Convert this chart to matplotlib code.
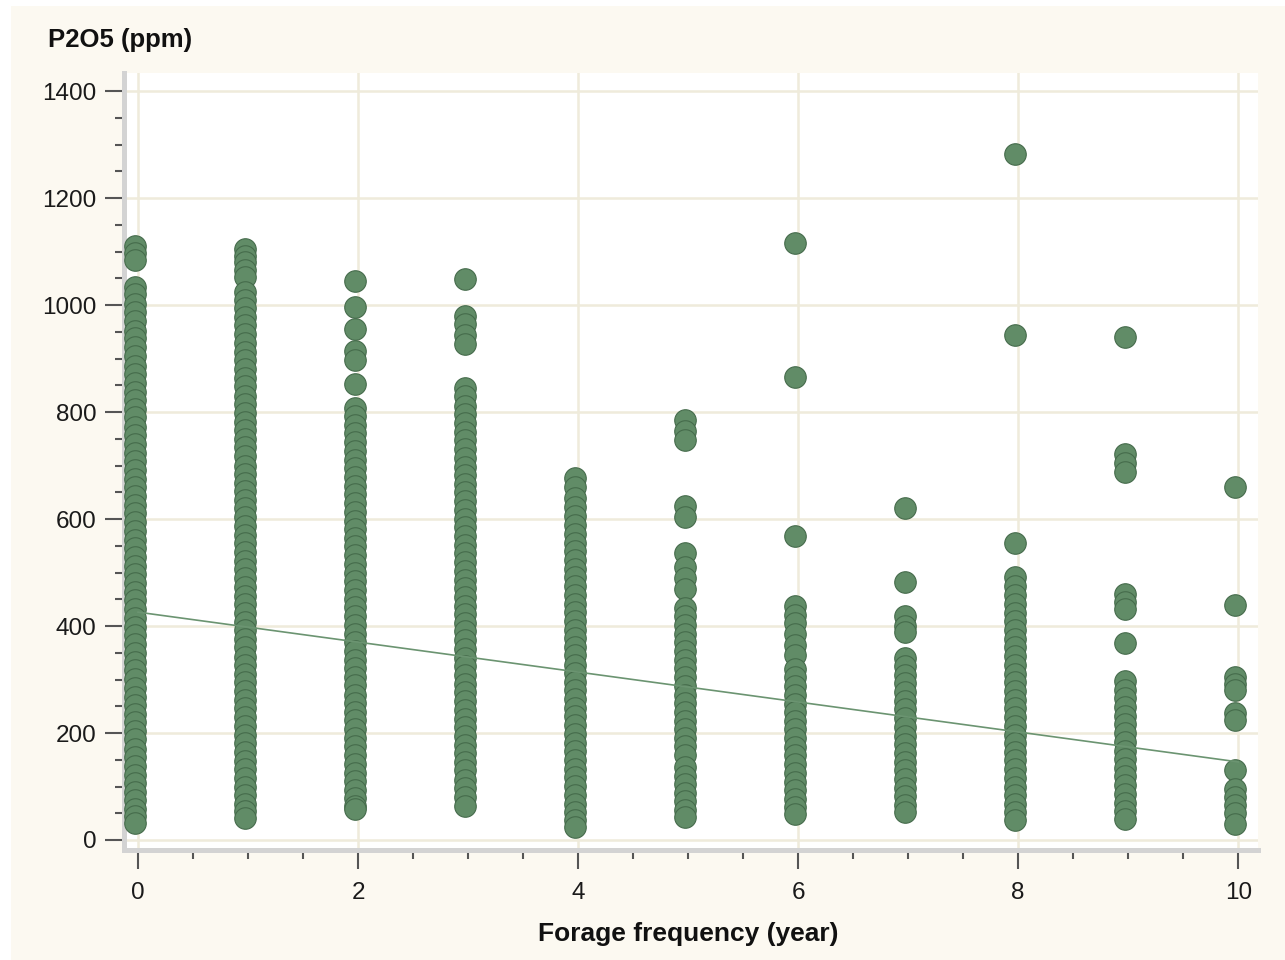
import numpy as np
import matplotlib.pyplot as plt
from matplotlib.patches import Rectangle
from matplotlib.ticker import MultipleLocator

plt.switch_backend('agg')
plt.rcParams['font.family'] = ['Liberation Sans', 'DejaVu Sans']

# P2O5 readings (ppm) grouped by forage frequency (years)
freq_years = [0, 1, 2, 3, 4, 5, 6, 7, 8, 9, 10]

p2o5_f0 = [1110, 1098, 1085, 1034, 1020, 1003, 988, 970, 952, 938, 921, 905, 887, 872,
           855, 838, 822, 806, 790, 772, 757, 740, 724, 708, 691, 675, 660, 643, 626,
           611, 594, 578, 561, 545, 530, 512, 497, 480, 464, 448, 431, 415, 398, 383,
           366, 350, 333, 318, 301, 285, 268, 252, 236, 220, 203, 188, 171, 155, 139,
           122, 106, 90, 74, 58, 44, 32]
p2o5_f1 = [1105, 1092, 1080, 1066, 1052, 1025, 1010, 995, 978, 962, 946, 930, 913, 897,
           880, 864, 848, 831, 815, 799, 782, 766, 750, 734, 717, 700, 685, 668, 652,
           636, 620, 603, 587, 571, 555, 538, 522, 506, 490, 473, 457, 441, 425, 408,
           392, 376, 360, 343, 327, 311, 295, 278, 262, 246, 230, 213, 197, 181, 165,
           148, 132, 116, 100, 84, 68, 54, 42]
p2o5_f2 = [1045, 996, 955, 914, 897, 852, 807, 792, 776, 760, 744, 727, 711, 695, 679,
           662, 646, 630, 614, 597, 581, 565, 549, 532, 516, 500, 484, 467, 451, 435,
           419, 402, 386, 370, 354, 337, 321, 305, 289, 272, 256, 240, 224, 207, 191,
           175, 159, 142, 126, 110, 94, 78, 64, 58]
p2o5_f3 = [1048, 980, 965, 945, 927, 845, 830, 812, 796, 780, 763, 747, 731, 715, 698,
           682, 666, 650, 633, 617, 601, 585, 568, 552, 536, 520, 503, 487, 471, 455,
           438, 422, 406, 390, 373, 357, 341, 325, 308, 292, 276, 260, 243, 227, 211,
           195, 178, 162, 146, 130, 113, 97, 81, 63]
p2o5_f4 = [677, 660, 640, 622, 605, 588, 572, 556, 540, 523, 507, 491, 475, 458, 442,
           426, 410, 393, 377, 361, 345, 328, 312, 296, 280, 263, 247, 231, 215, 198,
           182, 166, 150, 133, 117, 101, 85, 68, 52, 38, 25]
p2o5_f5 = [785, 765, 748, 624, 604, 536, 510, 490, 470, 434, 418, 402, 386, 370, 353,
           337, 321, 305, 288, 272, 256, 240, 223, 207, 191, 175, 158, 137, 120, 104,
           88, 72, 56, 43]
p2o5_f6 = [1116, 865, 568, 437, 420, 405, 385, 365, 345, 320, 304, 288, 272, 255, 239,
           223, 207, 190, 174, 158, 142, 125, 109, 93, 77, 62, 49]
p2o5_f7 = [620, 482, 419, 400, 389, 340, 325, 309, 293, 276, 260, 244, 228, 211, 195,
           179, 163, 146, 130, 114, 98, 82, 66, 52]
p2o5_f8 = [1282, 944, 555, 492, 475, 458, 441, 425, 409, 392, 376, 360, 344, 327, 311,
           295, 279, 262, 246, 230, 214, 197, 181, 165, 149, 132, 116, 100, 84, 68, 52, 38]
p2o5_f9 = [940, 722, 705, 688, 460, 445, 432, 368, 297, 281, 265, 249, 232, 216, 200,
           184, 167, 151, 135, 119, 102, 86, 70, 54, 39]
p2o5_f10 = [660, 440, 305, 292, 280, 237, 224, 130, 95, 80, 65, 50, 30]

p2o5_groups = [p2o5_f0, p2o5_f1, p2o5_f2, p2o5_f3, p2o5_f4, p2o5_f5,
               p2o5_f6, p2o5_f7, p2o5_f8, p2o5_f9, p2o5_f10]

# linear fit P2O5 ~ frequency
fit_intercept = 426
fit_slope = -28.0

cream = '#FCF9F1'
grid_col = '#EFEBDB'
dot_face = '#618C67'
dot_edge = '#456B4B'

fig = plt.figure(figsize=(12.85, 9.6), dpi=100, facecolor=cream)
# thin white border at top/left of the frame
fig.patches.append(Rectangle((0, 1 - 6/960), 1, 6/960, transform=fig.transFigure,
                             facecolor='white', edgecolor='none', zorder=0))
fig.patches.append(Rectangle((0, 0), 11/1285, 1, transform=fig.transFigure,
                             facecolor='white', edgecolor='none', zorder=0))

ax = fig.add_axes([124/1285, 110/960, 1134/1285, 777/960])
ax.set_facecolor('white')

for f, vals in zip(freq_years, p2o5_groups):
    xs = np.full(len(vals), f) - 0.025
    ax.plot(xs, vals, linestyle='none', marker='o', markersize=15.5,
            markerfacecolor=dot_face, markeredgecolor=dot_edge,
            markeredgewidth=0.8, zorder=3)

fx = np.array([freq_years[0], freq_years[-1]])
ax.plot(fx, fit_intercept + fit_slope*fx, color='#6B9471', lw=1.2, zorder=4)

ax.set_xlim(-0.127, 10.18)
ax.set_ylim(-18.7, 1434)

ax.xaxis.set_major_locator(MultipleLocator(2))
ax.xaxis.set_minor_locator(MultipleLocator(0.5))
ax.yaxis.set_major_locator(MultipleLocator(200))
ax.yaxis.set_minor_locator(MultipleLocator(50))

ax.grid(True, which='major', color=grid_col, lw=1.8, zorder=0)
ax.set_axisbelow(True)

for s in ['top', 'right']:
    ax.spines[s].set_visible(False)
for s in ['left', 'bottom']:
    ax.spines[s].set_color('#D3D3D3')
    ax.spines[s].set_linewidth(3.6)

ax.tick_params(which='major', length=14, width=1.5, color='#555555',
               labelsize=17.5, labelcolor='#1a1a1a', pad=6)
ax.tick_params(axis='x', which='major', pad=9)
ax.tick_params(which='minor', length=6.5, width=1.5, color='#555555')

fig.text(48/1285, 1 - 40/960, 'P2O5 (ppm)', fontsize=18.5, fontweight='bold',
         ha='left', va='center', color='#111111')
fig.text(688/1285, 1 - 934/960, 'Forage frequency (year)', fontsize=19,
         fontweight='bold', ha='center', va='center', color='#111111')

plt.savefig('out.png', dpi=100, facecolor=fig.get_facecolor())
